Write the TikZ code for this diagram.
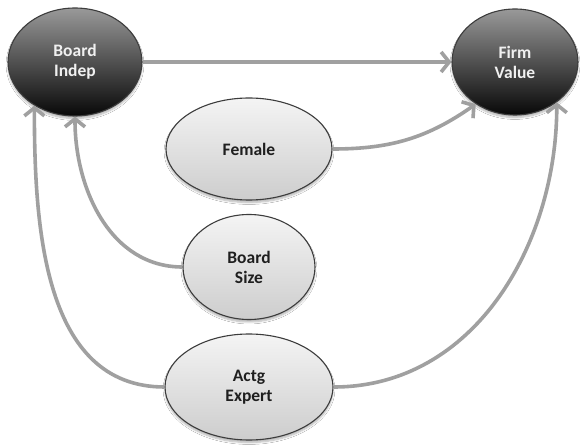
\documentclass[tikz,border=0pt]{standalone}
\usepackage{fontspec}
\setmainfont{Carlito}
\usetikzlibrary{shapes.geometric,arrows.meta,shadows.blur}
\definecolor{arrowgray}{HTML}{A0A0A0}
\definecolor{rimgray}{HTML}{3C3C3C}
\definecolor{lighttop}{HTML}{F4F4F4}
\definecolor{lightbot}{HTML}{CDCDCD}
\begin{document}
\begin{tikzpicture}[x=1pt,y=-1pt,
  oval/.style={ellipse,inner sep=0pt,draw=rimgray,line width=1.1pt,
    align=center,font=\bfseries\fontsize{17.5}{20}\selectfont,
    blur shadow={shadow xshift=0pt,shadow yshift=-2.5pt,shadow opacity=30,shadow blur steps=6}},
  darkoval/.style={oval,top color=black!40,middle color=black!78,bottom color=black!97,text=white!94!black},
  lightoval/.style={oval,top color=lighttop,bottom color=lightbot,text=black!88},
  arr/.style={draw=arrowgray,line width=3.6pt,
    -{Straight Barb[length=8pt,width=20pt,line width=3.6pt]}},
]
\useasboundingbox (0,0) rectangle (581,446);
\fill[white] (0,0) rectangle (581,446);

% outcome and governance nodes
\node[darkoval,minimum width=134pt,minimum height=108pt] (bi) at (75,62) {Board\\Indep};
\node[darkoval,minimum width=126pt,minimum height=106pt] (fv) at (515,62) {Firm\\Value};

% board characteristics
\node[lightoval,minimum width=166pt,minimum height=102pt] (fe) at (249,149) {Female};
\node[lightoval,minimum width=132pt,minimum height=105pt] (bs) at (249,267) {Board\\Size};
\node[lightoval,minimum width=168pt,minimum height=106pt] (ae) at (249,387) {Actg\\Expert};

% paths of influence
\draw[arr] (bi.east) -- (fv.west);
\draw[arr] (fe.east) to[out=0,in=215] (fv.227);
\draw[arr] (ae.east) to[out=0,in=-90] (fv.-44);
\draw[arr] (bs.west) to[out=180,in=-90] (bi.south);
\draw[arr] (ae.west) to[out=180,in=-90] (bi.227);
\end{tikzpicture}
\end{document}
